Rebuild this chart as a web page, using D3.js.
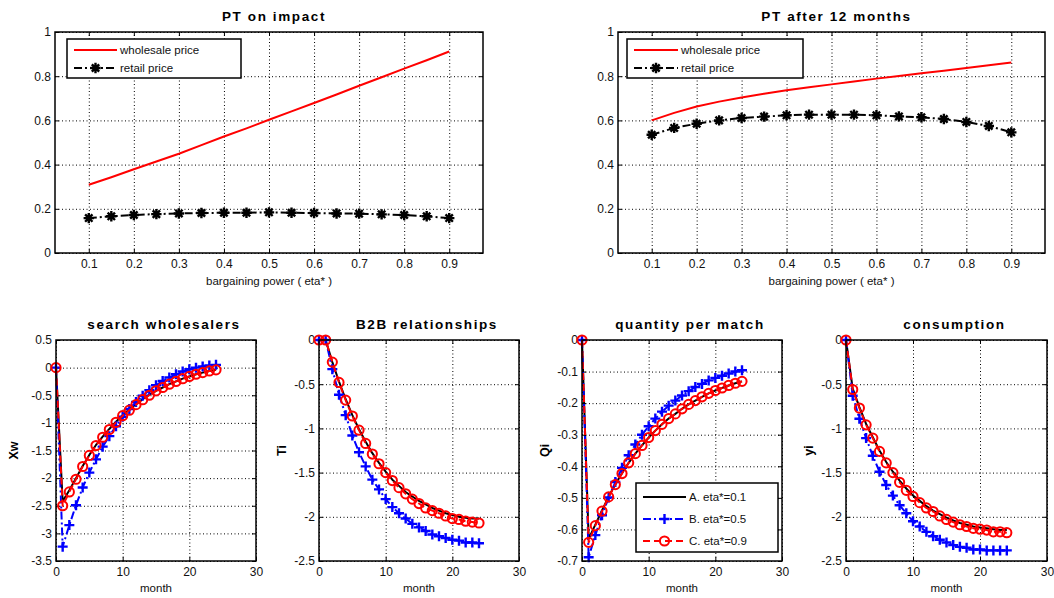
<!DOCTYPE html>
<html>
<head>
<meta charset="utf-8">
<script src="https://cdn.jsdelivr.net/npm/d3@7"></script>
<style>
  body { margin: 0; background: #fff; }
  svg { font-family: "Liberation Sans", Arial, sans-serif; }
</style>
</head>
<body>
<svg id="chart" width="1054" height="598"></svg>
<script>
// bargaining power grid (eta*)
const eta = [0.1, 0.15, 0.2, 0.25, 0.3, 0.35, 0.4, 0.45, 0.5, 0.55, 0.6, 0.65, 0.7, 0.75, 0.8, 0.85, 0.9]
const etaTicks = [0.1, 0.2, 0.3, 0.4, 0.5, 0.6, 0.7, 0.8, 0.9]
const ptTicks = [0, 0.2, 0.4, 0.6, 0.8, 1]

// PT on impact
const impactWholesale = [0.309, 0.343, 0.379, 0.414, 0.449, 0.488, 0.527, 0.564, 0.603, 0.641, 0.679, 0.717, 0.757, 0.795, 0.834, 0.872, 0.912]
const impactRetail = [0.158, 0.166, 0.172, 0.176, 0.179, 0.181, 0.182, 0.182, 0.184, 0.182, 0.181, 0.179, 0.178, 0.175, 0.172, 0.166, 0.158]

// PT after 12 months
const after12Wholesale = [0.600, 0.634, 0.663, 0.685, 0.704, 0.721, 0.736, 0.750, 0.763, 0.776, 0.789, 0.801, 0.813, 0.825, 0.837, 0.850, 0.862]
const after12Retail = [0.535, 0.566, 0.585, 0.600, 0.611, 0.617, 0.623, 0.626, 0.626, 0.626, 0.623, 0.618, 0.614, 0.606, 0.593, 0.575, 0.546]

// impulse responses, months 0..24
const months = [0, 1, 2, 3, 4, 5, 6, 7, 8, 9, 10, 11, 12, 13, 14, 15, 16, 17, 18, 19, 20, 21, 22, 23, 24]
const monthTicks = [0, 10, 20, 30]

// search wholesalers (Xw)
const xwA = [0, -2.42, -2.22, -2.00, -1.78, -1.58, -1.40, -1.25, -1.11, -0.98, -0.86, -0.76, -0.66, -0.57, -0.49, -0.42, -0.36, -0.30, -0.25, -0.20, -0.16, -0.12, -0.09, -0.06, -0.04]
const xwB = [0, -3.24, -2.85, -2.49, -2.17, -1.90, -1.66, -1.43, -1.24, -1.06, -0.89, -0.75, -0.62, -0.51, -0.41, -0.32, -0.24, -0.18, -0.12, -0.07, -0.03, 0.0, 0.02, 0.04, 0.05]
const xwC = [0, -2.50, -2.25, -2.02, -1.79, -1.59, -1.41, -1.26, -1.12, -0.99, -0.87, -0.77, -0.67, -0.58, -0.50, -0.42, -0.36, -0.30, -0.25, -0.20, -0.16, -0.12, -0.09, -0.06, -0.04]

// B2B relationships (Ti)
const tiA = [0, 0, -0.25, -0.47, -0.67, -0.85, -1.01, -1.15, -1.28, -1.39, -1.49, -1.58, -1.65, -1.72, -1.77, -1.82, -1.86, -1.90, -1.93, -1.96, -1.98, -2.00, -2.01, -2.02, -2.02]
const tiB = [0, 0, -0.33, -0.62, -0.85, -1.08, -1.27, -1.43, -1.58, -1.69, -1.80, -1.89, -1.96, -2.02, -2.08, -2.12, -2.16, -2.20, -2.22, -2.24, -2.26, -2.27, -2.29, -2.29, -2.30]
const tiC = [0, 0, -0.25, -0.48, -0.68, -0.86, -1.02, -1.17, -1.29, -1.40, -1.50, -1.59, -1.67, -1.74, -1.80, -1.85, -1.90, -1.93, -1.96, -1.99, -2.02, -2.03, -2.05, -2.06, -2.07]

// quantity per match (Qi)
const qiA = [0, -0.63, -0.585, -0.540, -0.496, -0.457, -0.422, -0.389, -0.360, -0.334, -0.309, -0.287, -0.267, -0.249, -0.234, -0.218, -0.204, -0.192, -0.180, -0.169, -0.160, -0.152, -0.144, -0.137, -0.131]
const qiB = [0, -0.688, -0.618, -0.555, -0.499, -0.450, -0.405, -0.365, -0.331, -0.300, -0.273, -0.249, -0.227, -0.208, -0.192, -0.176, -0.162, -0.149, -0.139, -0.128, -0.120, -0.113, -0.106, -0.100, -0.096]
const qiC = [0, -0.641, -0.588, -0.542, -0.497, -0.458, -0.423, -0.389, -0.360, -0.334, -0.309, -0.287, -0.267, -0.249, -0.234, -0.218, -0.204, -0.192, -0.180, -0.169, -0.160, -0.152, -0.144, -0.137, -0.131]

// consumption (yi)
const yiA = [0, -0.55, -0.76, -0.95, -1.10, -1.25, -1.38, -1.49, -1.59, -1.68, -1.76, -1.82, -1.88, -1.93, -1.97, -2.01, -2.04, -2.07, -2.09, -2.11, -2.12, -2.13, -2.14, -2.15, -2.15]
const yiB = [0, -0.63, -0.89, -1.11, -1.31, -1.49, -1.64, -1.76, -1.87, -1.96, -2.05, -2.11, -2.17, -2.22, -2.26, -2.29, -2.32, -2.34, -2.35, -2.37, -2.37, -2.38, -2.38, -2.38, -2.38]
const yiC = [0, -0.56, -0.77, -0.96, -1.11, -1.26, -1.39, -1.50, -1.61, -1.70, -1.77, -1.84, -1.90, -1.94, -1.99, -2.03, -2.06, -2.09, -2.11, -2.13, -2.14, -2.15, -2.17, -2.17, -2.18]

const svg = d3.select("#chart")
const fmt = (d) => String(+d.toFixed(2))

// series styles
const wholesaleStyle = { color: "#ff0000", width: 2, dash: null, marker: null, label: "wholesale price" }
const retailStyle = { color: "#000", width: 2, dash: "8,3,2,3", marker: "star", label: "retail price" }
const styleA = { color: "#000", width: 2, dash: null, marker: null, label: "A. eta*=0.1" }
const styleB = { color: "#0000ff", width: 2, dash: "8,3,2,3", marker: "plus", label: "B. eta*=0.5" }
const styleC = { color: "#ff0000", width: 2, dash: "7,4", marker: "circle", label: "C. eta*=0.9" }

function drawMarker(g, kind, color, cx, cy) {
  if (kind === "star") {
    const r = 5.2
    const p = d3.path()
    for (let k = 0; k < 4; k++) {
      const a = (k * Math.PI) / 4
      p.moveTo(cx - r * Math.cos(a), cy - r * Math.sin(a))
      p.lineTo(cx + r * Math.cos(a), cy + r * Math.sin(a))
    }
    g.append("path").attr("d", p.toString()).attr("stroke", color).attr("stroke-width", 2.4).attr("fill", "none")
  } else if (kind === "plus") {
    const r = 5
    g.append("path")
      .attr("d", `M${cx - r},${cy}H${cx + r}M${cx},${cy - r}V${cy + r}`)
      .attr("stroke", color).attr("stroke-width", 2.4).attr("fill", "none")
  } else if (kind === "circle") {
    g.append("circle").attr("cx", cx).attr("cy", cy).attr("r", 4.6)
      .attr("stroke", color).attr("stroke-width", 2).attr("fill", "none")
  }
}

function panel(opts) {
  const { box, xDomain, yDomain, xTicks, yTicks, title, titleDx, xLabel, yLabel, series } = opts
  const w = box.x1 - box.x0
  const h = box.y1 - box.y0
  const g = svg.append("g").attr("transform", `translate(${box.x0},${box.y0})`)

  const x = d3.scaleLinear().domain(xDomain).range([0, w])
  const y = d3.scaleLinear().domain(yDomain).range([h, 0])

  // dotted grid
  const gx = g.append("g").attr("transform", `translate(0,${h})`)
    .call(d3.axisBottom(x).tickValues(xTicks).tickSize(-h).tickFormat(""))
  const gy = g.append("g")
    .call(d3.axisLeft(y).tickValues(yTicks).tickSize(-w).tickFormat(""))
  for (const ga of [gx, gy]) {
    ga.select(".domain").remove()
    ga.selectAll("line").attr("stroke", "#000").attr("stroke-dasharray", "1,2.5").attr("stroke-width", 1)
  }

  // inner tick marks and labels
  const axes = [
    g.append("g").attr("transform", `translate(0,${h})`)
      .call(d3.axisBottom(x).tickValues(xTicks).tickSize(-4).tickSizeOuter(0).tickPadding(6).tickFormat(fmt)),
    g.append("g")
      .call(d3.axisLeft(y).tickValues(yTicks).tickSize(-4).tickSizeOuter(0).tickPadding(4).tickFormat(fmt)),
    g.append("g")
      .call(d3.axisTop(x).tickValues(xTicks).tickSize(-4).tickSizeOuter(0).tickFormat("")),
    g.append("g").attr("transform", `translate(${w},0)`)
      .call(d3.axisRight(y).tickValues(yTicks).tickSize(-4).tickSizeOuter(0).tickFormat(""))
  ]
  for (const a of axes) {
    a.select(".domain").remove()
    a.selectAll("line").attr("stroke", "#000")
    a.selectAll("text").attr("fill", "#111").style("font-size", "12px")
      .style("font-family", "'Liberation Sans', Arial, sans-serif")
  }
  axes[0].selectAll("text").attr("dy", "0.71em")

  // lines and markers
  const plot = g.append("g")
  series.forEach((s) => {
    const pts = s.xs.map((v, i) => [v, s.ys[i]])
    plot.append("path")
      .datum(pts)
      .attr("fill", "none")
      .attr("stroke", s.style.color)
      .attr("stroke-width", s.style.width)
      .attr("stroke-dasharray", s.style.dash)
      .attr("stroke-linejoin", "round")
      .attr("d", d3.line().x((d) => x(d[0])).y((d) => y(d[1])))
    if (s.style.marker) {
      pts.forEach((d) => drawMarker(plot, s.style.marker, s.style.color, x(d[0]), y(d[1])))
    }
  })

  // frame
  g.append("rect").attr("width", w).attr("height", h)
    .attr("fill", "none").attr("stroke", "#000").attr("stroke-width", 1.5)

  // title and labels
  g.append("text").attr("x", w / 2 + (titleDx || 0)).attr("y", -11)
    .attr("text-anchor", "middle").style("font-size", "13.5px").style("font-weight", "bold")
    .style("letter-spacing", "1.6px").text(title)
  g.append("text").attr("x", w / 2).attr("y", h + opts.xLabelDy)
    .attr("text-anchor", "middle").style("font-size", "11.5px").attr("fill", "#111").text(xLabel)
  if (yLabel) {
    g.append("text")
      .attr("transform", `translate(${opts.yLabelX},${h / 2}) rotate(-90)`)
      .attr("text-anchor", "middle").style("font-size", "12.5px").style("font-weight", "bold")
      .text(yLabel)
  }

  // legend
  if (opts.legend) {
    const L = opts.legend
    const lg = svg.append("g")
    lg.append("rect").attr("x", L.x0).attr("y", L.y0).attr("width", L.x1 - L.x0).attr("height", L.y1 - L.y0)
      .attr("fill", "#fff").attr("stroke", "#000").attr("stroke-width", 1.5)
    L.items.forEach((st, i) => {
      const yy = L.rowY[i]
      lg.append("line").attr("x1", L.lineX0).attr("x2", L.lineX1).attr("y1", yy).attr("y2", yy)
        .attr("stroke", st.color).attr("stroke-width", st.width).attr("stroke-dasharray", st.dash)
      if (st.marker) drawMarker(lg, st.marker, st.color, (L.lineX0 + L.lineX1) / 2, yy)
      lg.append("text").attr("x", L.lineX1 + 3).attr("y", yy + 4)
        .style("font-size", "11.5px").attr("fill", "#111").text(st.label)
    })
  }
}

const etaDomain = [0.025, 0.975]

panel({
  box: { x0: 55, x1: 483, y0: 32, y1: 253 },
  xDomain: etaDomain, yDomain: [0, 1], xTicks: etaTicks, yTicks: ptTicks,
  title: "PT on impact", titleDx: 5, xLabel: "bargaining power ( eta* )", xLabelDy: 32,
  series: [
    { xs: eta, ys: impactWholesale, style: wholesaleStyle },
    { xs: eta, ys: impactRetail, style: retailStyle }
  ],
  legend: { x0: 67, x1: 241, y0: 39, y1: 78, lineX0: 74, lineX1: 117, rowY: [50, 68], items: [wholesaleStyle, retailStyle] }
})

panel({
  box: { x0: 618, x1: 1045, y0: 32, y1: 253 },
  xDomain: etaDomain, yDomain: [0, 1], xTicks: etaTicks, yTicks: ptTicks,
  title: "PT after 12 months", titleDx: 5, xLabel: "bargaining power ( eta* )", xLabelDy: 32,
  series: [
    { xs: eta, ys: after12Wholesale, style: wholesaleStyle },
    { xs: eta, ys: after12Retail, style: retailStyle }
  ],
  legend: { x0: 627, x1: 803, y0: 39, y1: 78, lineX0: 634, lineX1: 678, rowY: [50, 68], items: [wholesaleStyle, retailStyle] }
})

const bottomPanels = [
  { x0: 56, x1: 256, title: "search wholesalers", yLabel: "Xw", yDomain: [-3.5, 0.5], yTicks: [0.5, 0, -0.5, -1, -1.5, -2, -2.5, -3, -3.5], a: xwA, b: xwB, c: xwC },
  { x0: 319, x1: 519, title: "B2B relationships", yLabel: "Ti", yDomain: [-2.5, 0], yTicks: [0, -0.5, -1, -1.5, -2, -2.5], a: tiA, b: tiB, c: tiC },
  { x0: 582, x1: 782, title: "quantity per match", yLabel: "Qi", yDomain: [-0.7, 0], yTicks: [0, -0.1, -0.2, -0.3, -0.4, -0.5, -0.6, -0.7], a: qiA, b: qiB, c: qiC },
  { x0: 846, x1: 1047, title: "consumption", yLabel: "yi", yDomain: [-2.5, 0], yTicks: [0, -0.5, -1, -1.5, -2, -2.5], a: yiA, b: yiB, c: yiC }
]

bottomPanels.forEach((p, i) => {
  panel({
    box: { x0: p.x0, x1: p.x1, y0: 340, y1: 561 },
    xDomain: [0, 30], yDomain: p.yDomain, xTicks: monthTicks, yTicks: p.yTicks,
    title: p.title, titleDx: 8, xLabel: "month", xLabelDy: 31, yLabel: p.yLabel,
    yLabelX: i === 0 ? -38 : -33,
    series: [
      { xs: months, ys: p.a, style: styleA },
      { xs: months, ys: p.b, style: styleB },
      { xs: months, ys: p.c, style: styleC }
    ],
    legend: i === 2
      ? { x0: 636, x1: 778, y0: 483, y1: 552, lineX0: 643, lineX1: 686, rowY: [497, 519, 541], items: [styleA, styleB, styleC] }
      : null
  })
})
</script>
</body>
</html>
